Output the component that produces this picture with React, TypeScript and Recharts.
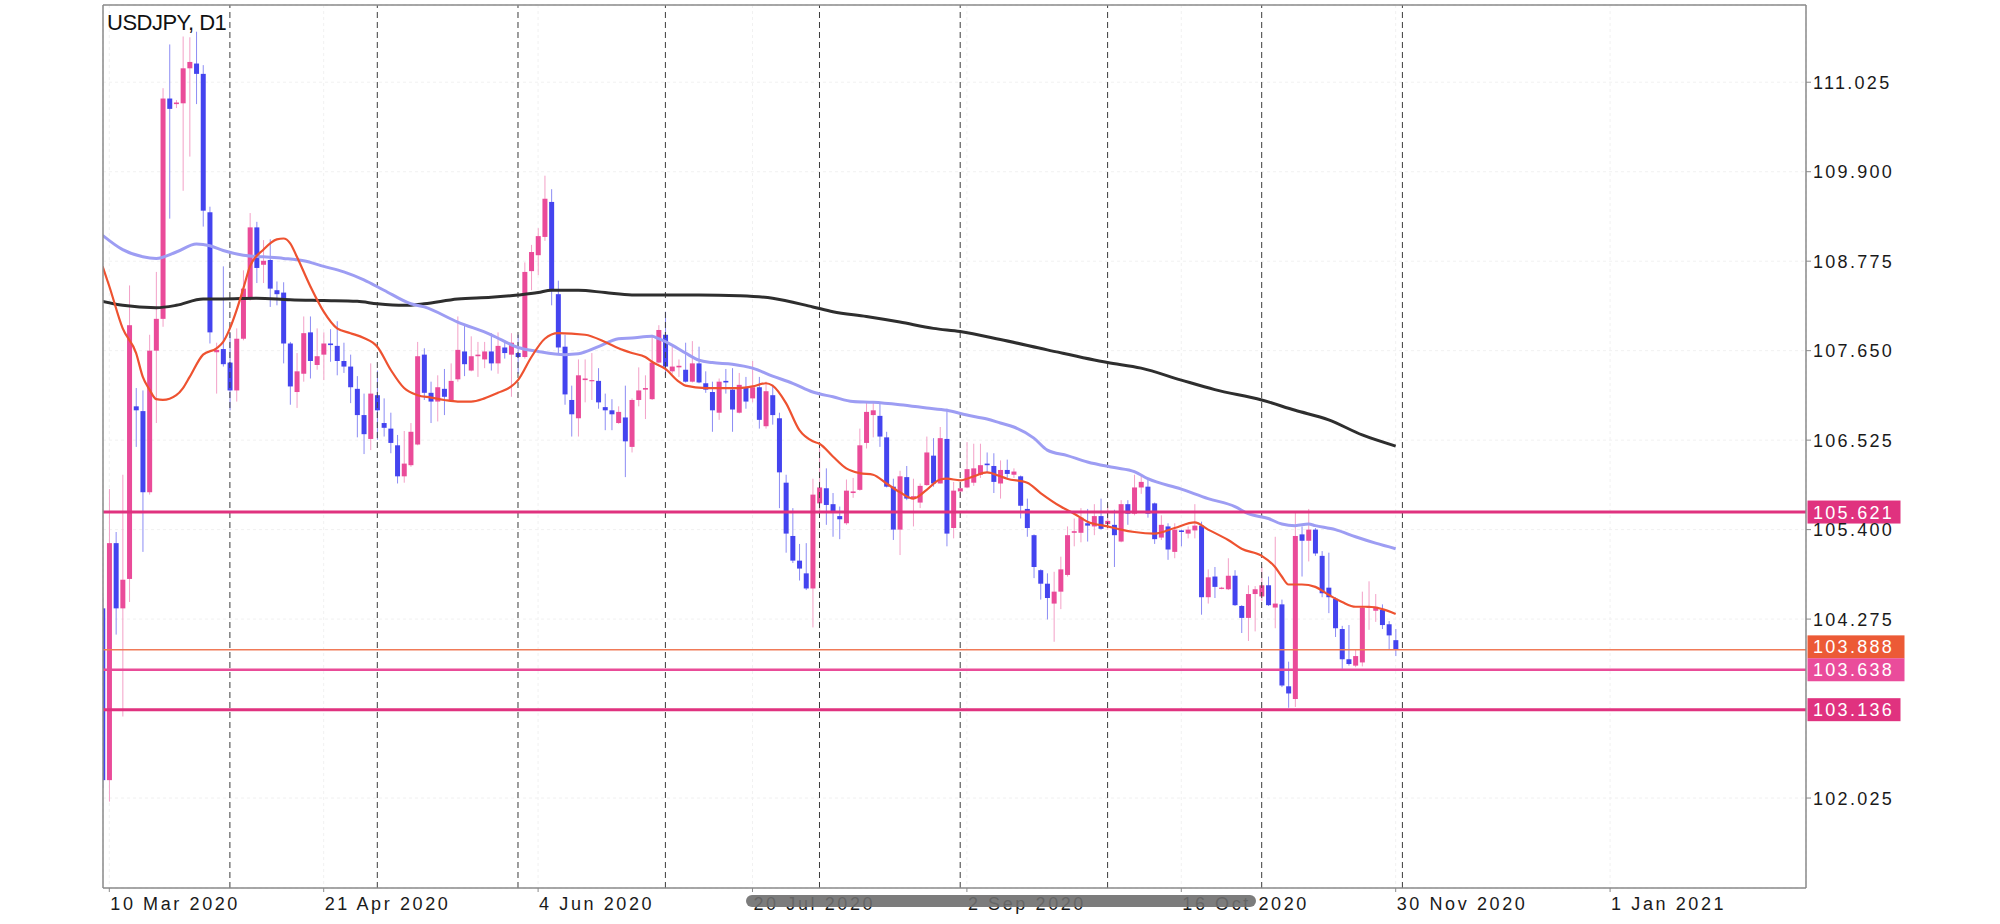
import { Bar, CartesianGrid, ComposedChart, Line, ReferenceLine, XAxis, YAxis } from "recharts"

const FONT = "'Liberation Sans', Arial, Helvetica, sans-serif"

// daily bars, index 0 = first (clipped) bar on the left
const opens = [
  104.41, 102.25, 105.23, 104.41, 104.78, 106.95, 106.89, 105.87, 107.65, 108.05,
  110.82, 110.75, 110.76, 111.2, 111.26, 111.13, 109.39, 107.63, 107.67, 107.5,
  107.15, 107.8, 108.31, 109.2, 108.73, 108.79, 108.41, 108.38, 107.74, 107.13,
  107.36, 107.88, 107.47, 107.6, 107.74, 107.71, 107.52, 107.45, 107.17, 106.84,
  106.54, 107.09, 106.74, 106.67, 106.46, 106.07, 106.21, 106.47, 107.6, 107.12,
  107.01, 107.17, 107.03, 107.29, 107.64, 107.4, 107.58, 107.54, 107.64, 107.49,
  107.69, 107.6, 107.62, 107.57, 108.65, 108.85, 109.08, 109.52, 108.36, 107.7,
  107.03, 106.8, 107.28, 107.27, 107.27, 106.94, 106.9, 106.74, 106.81, 106.44,
  107.03, 107.16, 107.04, 107.5, 107.85, 107.39, 107.44, 107.41, 107.26, 107.49,
  107.24, 107.13, 106.87, 107.27, 107.16, 106.87, 107.19, 107.05, 107.19, 106.7,
  107.09, 106.8, 105.99, 105.32, 105.01, 104.85, 104.66, 105.73, 105.92, 105.72,
  105.57, 105.48, 105.86, 105.9, 106.49, 106.84, 106.83, 106.56, 105.94, 105.4,
  106.06, 105.79, 105.74, 105.96, 106.33, 105.98, 106.54, 105.42, 105.88, 105.93,
  105.99, 106.09, 106.23, 106.2, 105.98, 106.15, 106.09, 106.07, 105.66, 105.33,
  104.89, 104.72, 104.47, 104.62, 104.83, 105.36, 105.36, 105.48, 105.44, 105.57,
  105.47, 105.46, 105.25, 105.72, 105.6, 105.93, 105.94, 105.73, 105.3, 105.44,
  105.12, 105.39, 105.35, 105.39, 105.45, 104.55, 104.81, 104.66, 104.65, 104.82,
  104.44, 104.29, 104.59, 104.56, 104.7, 104.42, 104.46, 103.43, 103.27, 105.34,
  105.26, 105.4, 105.07, 104.67, 104.53, 104.15, 103.77, 103.69, 103.73, 104.42,
  104.38, 104.39, 104.21, 104.01,
]
const highs = [
  104.55, 105.91, 105.37, 106.09, 108.47, 107.18, 107.15, 107.85, 108.64, 110.95,
  111.5, 110.8, 111.6, 111.59, 111.66, 111.24, 109.46, 107.75, 108.71, 107.87,
  107.93, 108.66, 109.38, 109.27, 109.04, 109.05, 108.52, 108.51, 107.76, 107.62,
  108.08, 108.08, 107.93, 107.88, 107.92, 108.02, 107.75, 107.6, 107.33, 107.11,
  107.49, 107.4, 107.05, 106.87, 106.59, 106.64, 106.74, 107.76, 107.68, 107.26,
  107.34, 107.42, 107.49, 108.08, 107.97, 107.83, 107.76, 107.76, 107.87, 107.88,
  107.78, 107.87, 107.85, 108.76, 108.98, 109.19, 109.85, 109.68, 108.53, 107.85,
  107.21, 107.54, 107.54, 107.62, 107.43, 107.11, 107.04, 106.95, 107.21, 107.05,
  107.44, 107.34, 107.85, 107.97, 108.14, 107.7, 107.54, 107.75, 107.77, 107.7,
  107.39, 107.26, 107.3, 107.42, 107.43, 107.37, 107.32, 107.52, 107.32, 107.26,
  107.22, 106.87, 106.09, 105.67, 105.22, 105.23, 106.04, 106.44, 106.17, 105.86,
  105.69, 106.03, 106.05, 106.67, 107.01, 107.01, 106.99, 106.63, 106.04, 106.14,
  106.2, 106.04, 105.98, 106.57, 106.55, 106.69, 106.92, 106.0, 106.0, 106.5,
  106.48, 106.48, 106.37, 106.36, 106.27, 106.28, 106.17, 106.08, 105.79, 105.34,
  104.9, 104.85, 104.87, 105.06, 105.44, 105.54, 105.67, 105.66, 105.72, 105.79,
  105.7, 105.65, 105.77, 105.77, 106.09, 106.09, 106.03, 105.74, 105.58, 105.48,
  105.48, 105.4, 105.44, 105.72, 105.5, 104.9, 104.93, 104.68, 105.04, 104.89,
  104.45, 104.7, 104.69, 104.93, 104.81, 105.31, 104.52, 103.74, 105.63, 105.44,
  105.66, 105.42, 105.13, 105.11, 104.55, 104.19, 104.2, 103.89, 104.62, 104.75,
  104.59, 104.46, 104.25, 104.15,
]
const lows = [
  102.15, 101.98, 104.08, 103.05, 104.49, 106.44, 105.12, 105.84, 106.74, 107.95,
  109.31, 110.7, 109.66, 110.09, 110.75, 109.21, 107.74, 107.11, 107.45, 106.9,
  107.01, 107.78, 108.28, 108.5, 108.5, 108.2, 108.22, 107.49, 106.97, 106.93,
  107.26, 107.3, 107.41, 107.28, 107.51, 107.34, 107.37, 106.99, 106.56, 106.35,
  106.4, 106.53, 106.57, 106.36, 105.98, 105.99, 106.19, 106.46, 107.03, 106.74,
  106.76, 106.84, 107.02, 107.26, 107.33, 107.39, 107.32, 107.43, 107.4, 107.36,
  107.55, 107.07, 107.36, 107.55, 108.41, 108.6, 109.03, 108.22, 107.62, 106.97,
  106.57, 106.57, 107.0, 107.03, 106.92, 106.65, 106.65, 106.73, 106.06, 106.37,
  106.95, 106.79, 107.03, 107.49, 107.34, 107.36, 107.32, 107.25, 107.25, 107.24,
  107.12, 106.63, 106.78, 107.11, 106.63, 106.86, 106.92, 107.0, 106.67, 106.67,
  106.72, 105.67, 105.11, 104.98, 104.76, 104.64, 104.17, 105.63, 105.46, 105.31,
  105.28, 105.46, 105.8, 105.89, 106.42, 106.56, 106.44, 105.93, 105.27, 105.08,
  105.77, 105.44, 105.67, 105.95, 105.94, 105.98, 105.19, 105.29, 105.8, 105.92,
  105.95, 106.05, 106.12, 105.86, 105.79, 106.05, 106.05, 105.54, 105.31, 104.79,
  104.52, 104.27, 103.99, 104.4, 104.81, 105.19, 105.24, 105.25, 105.33, 105.4,
  105.4, 104.93, 105.24, 105.46, 105.58, 105.85, 105.55, 105.22, 105.27, 105.02,
  105.04, 105.19, 105.29, 105.29, 104.33, 104.47, 104.54, 104.65, 104.64, 104.44,
  104.1, 104.0, 104.12, 104.5, 104.44, 104.16, 103.42, 103.16, 103.17, 104.81,
  105.0, 105.07, 104.55, 104.35, 104.05, 103.65, 103.69, 103.67, 103.68, 104.14,
  104.24, 104.15, 103.89, 103.81,
]
const closes = [
  102.25, 105.23, 104.41, 104.77, 107.97, 106.9, 105.87, 107.65, 108.05, 110.82,
  110.69, 110.77, 111.2, 111.28, 111.13, 109.41, 107.88, 107.66, 107.48, 107.15,
  107.8, 108.43, 109.2, 108.69, 108.78, 108.43, 108.36, 107.74, 107.2, 107.39,
  107.87, 107.52, 107.58, 107.74, 107.72, 107.52, 107.45, 107.19, 106.84, 106.6,
  107.11, 106.9, 106.68, 106.49, 106.07, 106.23, 106.63, 107.58, 107.12, 107.01,
  107.19, 107.07, 107.27, 107.66, 107.48, 107.58, 107.6, 107.64, 107.49, 107.71,
  107.62, 107.75, 107.57, 108.64, 108.89, 109.09, 109.56, 108.41, 107.69, 107.1,
  106.85, 107.34, 107.3, 107.28, 107.0, 106.9, 106.85, 106.88, 106.51, 107.03,
  107.15, 107.18, 107.5, 107.91, 107.45, 107.45, 107.46, 107.26, 107.49, 107.25,
  107.16, 106.9, 107.26, 107.25, 106.91, 107.22, 107.01, 107.19, 106.78, 107.14,
  106.84, 106.12, 105.35, 105.01, 104.91, 104.66, 105.84, 105.93, 105.71, 105.61,
  105.53, 105.89, 105.88, 106.46, 106.88, 106.9, 106.57, 105.94, 105.4, 106.07,
  105.79, 105.82, 105.95, 106.37, 105.98, 106.55, 105.35, 105.89, 105.92, 106.16,
  106.17, 106.21, 106.21, 106.0, 106.15, 106.1, 106.13, 105.7, 105.42, 104.93,
  104.72, 104.54, 104.62, 104.9, 105.33, 105.38, 105.55, 105.45, 105.57, 105.41,
  105.51, 105.33, 105.72, 105.6, 105.93, 106.0, 105.6, 105.28, 105.46, 105.15,
  105.4, 105.37, 105.4, 105.45, 104.55, 104.8, 104.68, 104.67, 104.82, 104.45,
  104.29, 104.59, 104.65, 104.7, 104.45, 104.47, 103.44, 103.34, 105.32, 105.26,
  105.4, 105.1, 104.6, 104.55, 104.16, 103.77, 103.71, 103.81, 104.42, 104.43,
  104.43, 104.2, 104.07, 103.888,
]

// moving averages: [bar index, price]
const fastMa = [
  [0, 108.71], [1, 108.46], [3, 107.93], [5, 107.62], [6, 107.32], [7, 107.16], [8, 107.04],
  [9, 107.03], [11, 107.09], [12, 107.18], [13, 107.32], [15, 107.6], [17, 107.68], [18, 107.76],
  [19, 107.93], [20, 108.16], [21, 108.43], [22, 108.71], [24, 108.92], [26, 109.05], [27, 109.06],
  [28, 109.0], [29, 108.83], [31, 108.46], [33, 108.14], [35, 107.93], [37, 107.87], [39, 107.81],
  [41, 107.7], [43, 107.41], [45, 107.18], [47, 107.09], [49, 107.06], [51, 107.03], [53, 107.01],
  [55, 107.01], [57, 107.05], [59, 107.12], [61, 107.2], [62, 107.28], [64, 107.57], [66, 107.8],
  [68, 107.87], [72, 107.85], [75, 107.76], [77, 107.68], [79, 107.62], [81, 107.57], [82, 107.51],
  [84, 107.42], [86, 107.26], [87, 107.21], [90, 107.18], [93, 107.18], [95, 107.18], [97, 107.2],
  [99, 107.24], [100, 107.21], [102, 106.99], [104, 106.65], [106, 106.51], [107, 106.48],
  [109, 106.32], [111, 106.17], [113, 106.11], [115, 106.09], [117, 105.98], [119, 105.87],
  [121, 105.79], [123, 105.9], [125, 106.03], [126, 106.04], [128, 106.02], [130, 106.07],
  [132, 106.12], [134, 106.07], [135, 106.04], [138, 105.99], [140, 105.86], [143, 105.69],
  [145, 105.6], [147, 105.5], [150, 105.44], [152, 105.4], [154, 105.37], [157, 105.35],
  [160, 105.42], [163, 105.49], [165, 105.4], [168, 105.27], [170, 105.16], [173, 105.07],
  [175, 104.93], [176, 104.81], [177, 104.71], [179, 104.71], [181, 104.68], [183, 104.58],
  [185, 104.49], [187, 104.43], [189, 104.43], [191, 104.4], [193, 104.34],
]
const midMa = [
  [0, 109.1], [3, 108.92], [6, 108.83], [8, 108.81], [11, 108.89], [14, 108.99], [16, 108.97],
  [18, 108.91], [21, 108.85], [24, 108.83], [27, 108.81], [30, 108.78], [33, 108.71], [36, 108.64],
  [39, 108.54], [42, 108.41], [46, 108.24], [48, 108.2], [53, 108.01], [58, 107.85], [62, 107.69],
  [65, 107.64], [69, 107.6], [71, 107.61], [74, 107.7], [77, 107.8], [79, 107.81], [82, 107.83],
  [83, 107.8], [85, 107.72], [87, 107.62], [89, 107.53], [91, 107.5], [94, 107.48], [97, 107.43],
  [100, 107.33], [103, 107.24], [106, 107.13], [109, 107.07], [112, 107.01], [115, 107.0],
  [119, 106.97], [123, 106.93], [126, 106.9], [129, 106.84], [132, 106.79], [134, 106.74],
  [136, 106.69], [139, 106.55], [141, 106.4], [144, 106.33], [147, 106.25], [151, 106.18],
  [154, 106.13], [156, 106.04], [161, 105.91], [165, 105.79], [169, 105.69], [171, 105.6],
  [174, 105.54], [176, 105.47], [178, 105.45], [180, 105.47], [181, 105.45], [184, 105.4],
  [187, 105.31], [190, 105.23], [193, 105.16],
]
const slowMa = [
  [0, 108.27], [3, 108.22], [8, 108.19], [11, 108.22], [15, 108.3], [18, 108.3], [23, 108.31],
  [28, 108.29], [33, 108.28], [38, 108.27], [41, 108.24], [45, 108.22], [48, 108.24], [53, 108.3],
  [58, 108.32], [62, 108.35], [65, 108.38], [67, 108.41], [71, 108.41], [75, 108.38], [79, 108.35],
  [84, 108.35], [89, 108.35], [95, 108.34], [100, 108.31], [106, 108.2], [109, 108.14],
  [114, 108.08], [119, 108.01], [124, 107.93], [128, 107.89], [134, 107.79], [141, 107.66],
  [150, 107.5], [155, 107.43], [161, 107.28], [166, 107.16], [173, 107.03], [178, 106.9],
  [183, 106.78], [188, 106.59], [193, 106.45],
]

const monthStarts = [19, 41, 62, 84, 107, 128, 150, 173, 194]
const dateTicks = [1, 33, 65, 97, 129, 161, 193, 225]
const dateLabels = [
  "10 Mar 2020", "21 Apr 2020", "4 Jun 2020", "20 Jul 2020",
  "2 Sep 2020", "16 Oct 2020", "30 Nov 2020", "1 Jan 2021",
]
const priceTicks = [102.025, 104.275, 105.4, 106.525, 107.65, 108.775, 109.9, 111.025]
const levelPrices = [105.621, 103.888, 103.638, 103.136]

const LEVEL_STYLE: Record<number, { line: string; width: number; tag: string; tagW: number; shift: number }> = {
  105.621: { line: "#e0327f", width: 3, tag: "#e0327f", tagW: 93, shift: 0 },
  103.888: { line: "#f07a58", width: 1.5, tag: "#ec5a36", tagW: 97, shift: -3 },
  103.638: { line: "#e94c98", width: 2.5, tag: "#ea4c9b", tagW: 97, shift: 0 },
  103.136: { line: "#e0327f", width: 3, tag: "#e0327f", tagW: 93, shift: 0 },
}

const X_MIN = 0.06
const X_MAX = 254.24
const Y_MIN = 100.894
const Y_MAX = 111.996

const UP = "#ea4b99"
const UP_WICK = "#f3a0c7"
const DOWN = "#4444ef"
const DOWN_WICK = "#8c8cf4"

const candles = opens.map((o, i) => ({
  i,
  o,
  h: highs[i],
  l: lows[i],
  c: closes[i],
  range: [lows[i], highs[i]],
}))
const toPoints = (pts: number[][]) => pts.map(([i, v]) => ({ i, v }))

function Candle(props: any) {
  const { x, y, width, height, payload } = props
  if (x == null || y == null) return null
  const top = Math.min(y, y + height)
  const span = Math.abs(height)
  const { o, h, l, c } = payload
  const cx = x + width / 2
  const k = h - l > 0 ? span / (h - l) : 0
  const up = c >= o
  const bTop = top + (h - Math.max(o, c)) * k
  const bBot = top + (h - Math.min(o, c)) * k
  return (
    <g>
      <line x1={cx} x2={cx} y1={top} y2={top + span} stroke={up ? UP_WICK : DOWN_WICK} strokeWidth={1} />
      <rect x={cx - 2.5} y={bTop} width={5} height={Math.max(bBot - bTop, 1.2)} fill={up ? UP : DOWN} />
    </g>
  )
}

function DateTick(props: any) {
  const { x, y, payload } = props
  const label = dateLabels[dateTicks.indexOf(payload.value)]
  return (
    <text x={x + 1} y={y + 16} fill="#1a1a1a" fontSize={18} letterSpacing={2.6} fontFamily={FONT} textAnchor="start">
      {label}
    </text>
  )
}

function PriceTick(props: any) {
  const { x, y, payload } = props
  return (
    <text x={x} y={y + 6.5} fill="#1a1a1a" fontSize={18} letterSpacing={2.3} fontFamily={FONT} textAnchor="start">
      {Number(payload.value).toFixed(3)}
    </text>
  )
}

function PriceTag(props: any) {
  const { viewBox, price, fill, tagW, shift } = props
  if (!viewBox) return null
  const x = viewBox.x + viewBox.width + 1.5
  const y = viewBox.y + shift
  return (
    <g>
      <rect x={x} y={y - 11.5} width={tagW} height={23} fill={fill} />
      <text x={x + 5.5} y={y + 6.5} fill="#ffffff" fontSize={18} letterSpacing={2.3} fontFamily={FONT}>
        {price.toFixed(3)}
      </text>
    </g>
  )
}

export default function App() {
  return (
    <div style={{ position: "relative", width: 2000, height: 924, background: "#fff", fontFamily: FONT }}>
      <style>{"body{margin:0}"}</style>
      <ComposedChart
        width={2000}
        height={924}
        data={candles}
        margin={{ top: 5, right: 94, bottom: 6, left: 103 }}
      >
        <CartesianGrid stroke="#f1f1f1" strokeDasharray="3 3" />
        <XAxis
          dataKey="i"
          type="number"
          domain={[X_MIN, X_MAX]}
          allowDataOverflow
          ticks={dateTicks}
          interval={0}
          tick={<DateTick />}
          tickSize={4}
          tickMargin={2}
          height={30}
          axisLine={{ stroke: "#8a8a8a", strokeWidth: 1.5 }}
          tickLine={{ stroke: "#8a8a8a" }}
        />
        <YAxis
          orientation="right"
          type="number"
          domain={[Y_MIN, Y_MAX]}
          allowDataOverflow
          ticks={priceTicks}
          interval={0}
          tick={<PriceTick />}
          tickSize={5}
          tickMargin={2}
          width={100}
          axisLine={{ stroke: "#8a8a8a", strokeWidth: 1.5 }}
          tickLine={{ stroke: "#8a8a8a" }}
        />
        {monthStarts.map((m) => (
          <ReferenceLine key={`sep-${m}`} x={m} stroke="#3c3c3c" strokeDasharray="6 4" strokeWidth={1} />
        ))}
        <Bar dataKey="range" barSize={5} shape={(p: any) => <Candle {...p} />} isAnimationActive={false} />
        <Line data={toPoints(slowMa)} dataKey="v" type="monotone" stroke="#2e2e2e" strokeWidth={3} dot={false} activeDot={false} isAnimationActive={false} />
        <Line data={toPoints(midMa)} dataKey="v" type="monotone" stroke="#9d9df3" strokeWidth={3} dot={false} activeDot={false} isAnimationActive={false} />
        <Line data={toPoints(fastMa)} dataKey="v" type="monotone" stroke="#ee5230" strokeWidth={2.2} dot={false} activeDot={false} isAnimationActive={false} />
        {levelPrices.map((p) => {
          const s = LEVEL_STYLE[p]
          return (
            <ReferenceLine
              key={`lvl-${p}`}
              y={p}
              stroke={s.line}
              strokeWidth={s.width}
              label={<PriceTag price={p} fill={s.tag} tagW={s.tagW} shift={s.shift} />}
            />
          )
        })}
        <ReferenceLine x={X_MIN} stroke="#8a8a8a" strokeWidth={1.5} />
        <ReferenceLine y={Y_MAX} stroke="#8a8a8a" strokeWidth={1.5} />
      </ComposedChart>
      <div
        style={{
          position: "absolute",
          left: 107,
          top: 12,
          fontSize: 22,
          lineHeight: "22px",
          letterSpacing: -0.5,
          color: "#111",
        }}
      >
        USDJPY, D1
      </div>
      <div
        style={{
          position: "absolute",
          left: 746,
          top: 895,
          width: 510,
          height: 12,
          borderRadius: 6,
          background: "rgba(110,110,110,0.9)",
        }}
      />
    </div>
  )
}
